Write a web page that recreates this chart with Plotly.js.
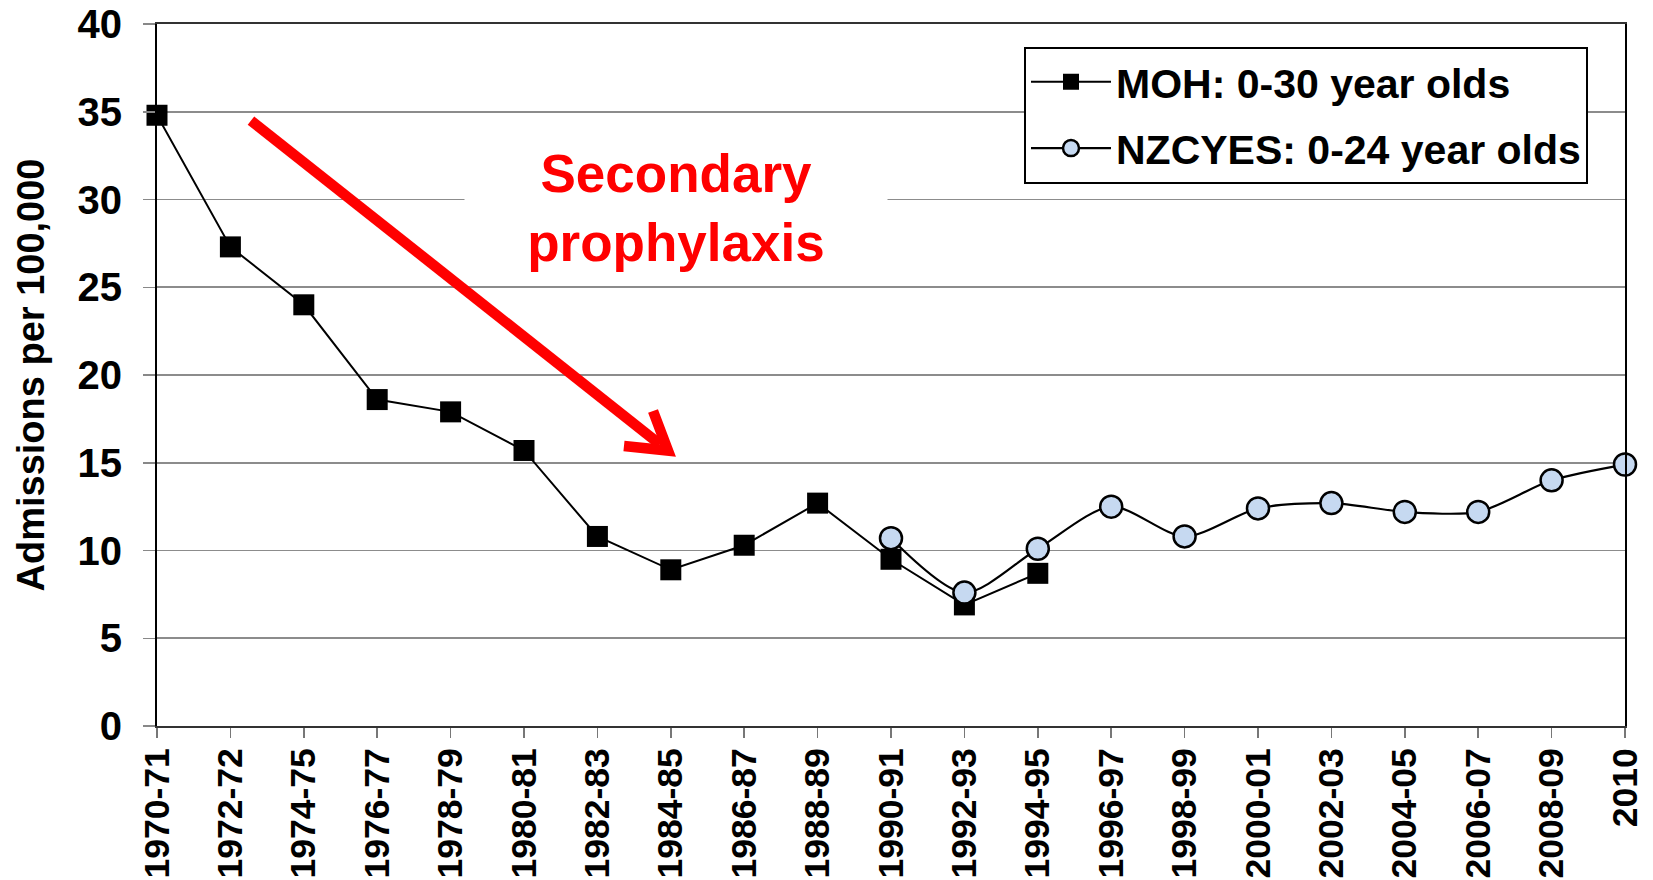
<!DOCTYPE html>
<html>
<head>
<meta charset="utf-8">
<script src="https://cdn.plot.ly/plotly-3.0.1.min.js"></script>
<style>html,body{margin:0;padding:0;background:#fff}#chart{width:1653px;height:880px}</style>
</head>
<body>
<div id="chart"></div>
<script>
const categories = ["1970-71","1972-72","1974-75","1976-77","1978-79","1980-81","1982-83","1984-85","1986-87","1988-89","1990-91","1992-93","1994-95","1996-97","1998-99","2000-01","2002-03","2004-05","2006-07","2008-09","2010"];
const mohPeriods = ["1970-71","1972-72","1974-75","1976-77","1978-79","1980-81","1982-83","1984-85","1986-87","1988-89","1990-91","1992-93","1994-95"];
const mohValues = [34.8, 27.3, 24.0, 18.6, 17.9, 15.7, 10.8, 8.9, 10.3, 12.7, 9.5, 6.9, 8.7];
const nzcyesPeriods = ["1990-91","1992-93","1994-95","1996-97","1998-99","2000-01","2002-03","2004-05","2006-07","2008-09","2010"];
const nzcyesValues = [10.7, 7.6, 10.1, 12.5, 10.8, 12.4, 12.7, 12.2, 12.2, 14.0, 14.9];
const seriesNames = ["MOH: 0-30 year olds", "NZCYES: 0-24 year olds"];
const yTickValues = [0, 5, 10, 15, 20, 25, 30, 35, 40];
const yTitle = "Admissions per 100,000";
const noteText = "Secondary<br>prophylaxis";

const FONT = "Liberation Sans, Arial, sans-serif";

const traces = [
  {
    x: mohPeriods, y: mohValues, name: seriesNames[0], type: "scatter", mode: "lines+markers",
    line: {color: "#000000", width: 2},
    marker: {symbol: "square", size: 21, color: "#000000", line: {color: "#000000", width: 0}},
    cliponaxis: false, legendgroup: "a"
  },
  {
    x: nzcyesPeriods, y: nzcyesValues, name: seriesNames[1], type: "scatter", mode: "lines+markers",
    line: {color: "#000000", width: 2.2, shape: "spline", smoothing: 0.8},
    marker: {symbol: "circle", size: 22, color: "#c6d9f1", line: {color: "#000000", width: 2.5}},
    cliponaxis: false, legendgroup: "b"
  }
];

const layout = {
  width: 1653, height: 880,
  margin: {l: 157, r: 28, t: 24, b: 154, pad: 0},
  paper_bgcolor: "#ffffff", plot_bgcolor: "#ffffff",
  font: {family: FONT, weight: "bold", color: "#000000"},
  showlegend: true,
  legend: {
    x: 0.5906, y: 0.9677, xanchor: "left", yanchor: "top",
    bgcolor: "#ffffff", bordercolor: "#000000", borderwidth: 2,
    font: {family: FONT, size: 41, weight: "bold", color: "#000000"},
    itemwidth: 80, tracegroupgap: 10, traceorder: "grouped"
  },
  xaxis: {
    type: "category", categoryorder: "array", categoryarray: categories,
    tickvals: categories, ticktext: categories,
    range: [0, 20], tickangle: -90,
    tickfont: {family: FONT, size: 35.5, weight: "bold", color: "#000000"},
    ticks: "outside", ticklen: 10, tickwidth: 1.5, tickcolor: "#777777",
    ticklabelstandoff: -4,
    showline: true, linecolor: "#333333", linewidth: 2, mirror: true,
    showgrid: false, zeroline: false, automargin: false
  },
  yaxis: {
    range: [0, 40], tickvals: yTickValues,
    tickfont: {family: FONT, size: 40, weight: "bold", color: "#000000"},
    ticks: "outside", ticklen: 12, tickwidth: 1.5, tickcolor: "#888888",
    ticklabelstandoff: 13,
    showline: true, linecolor: "#000000", linewidth: 2, mirror: true,
    showgrid: true, gridcolor: "#8c8c8c", gridwidth: 1.8, zeroline: false,
    title: {text: yTitle, standoff: 21, font: {family: FONT, size: 38, weight: "bold", color: "#000000"}},
    automargin: false
  },
  shapes: [
    {type: "path", xref: "paper", yref: "paper", layer: "above",
     path: "M 0.0640 0.8625 L 0.3426 0.4013",
     line: {color: "#ff0000", width: 10.5}},
    {type: "path", xref: "paper", yref: "paper", layer: "above",
     path: "M 0.3379 0.4487 L 0.3481 0.3924 L 0.3181 0.3989",
     line: {color: "#ff0000", width: 10.5}}
  ],
  annotations: [
    {text: noteText, xref: "paper", yref: "paper", x: 0.3535, y: 0.7386,
     xanchor: "center", yanchor: "middle", showarrow: false,
     bgcolor: "#ffffff", width: 422, borderpad: 0, align: "center",
     font: {family: FONT, size: 53, weight: "bold", color: "#ff0000"}}
  ]
};

Plotly.newPlot("chart", traces, layout, {displayModeBar: false, staticPlot: true});
</script>
</body>
</html>
